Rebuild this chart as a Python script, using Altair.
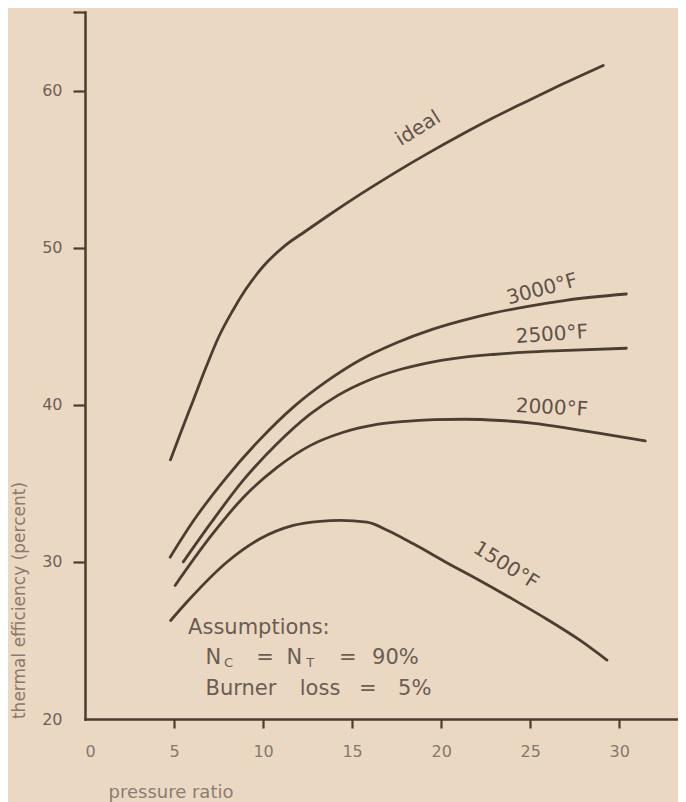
import altair as alt
import pandas as pd

# ---- data (pressure ratio, thermal efficiency %) ----
ideal_x = [4.8, 5.4, 6.05, 6.8, 7.5, 8.3, 9.0, 10.0, 11.2, 12.4, 13.6, 15.45, 17.3, 19.2, 21.1, 22.9, 24.8, 26.7, 29.1]
ideal_y = [36.5, 38.3, 40.2, 42.4, 44.3, 46.0, 47.3, 48.8, 50.1, 51.06, 52.0, 53.39, 54.7, 55.97, 57.17, 58.25, 59.31, 60.35, 61.6]

t3000_x = [4.78, 6.08, 7.96, 9.83, 11.7, 13.58, 15.45, 17.5, 19.5, 22.0, 24.8, 27.0, 30.4]
t3000_y = [30.3, 32.6, 35.4, 37.8, 39.85, 41.5, 42.85, 43.95, 44.8, 45.6, 46.25, 46.65, 47.05]

t2500_x = [5.52, 7.02, 8.89, 10.77, 12.64, 14.2, 15.9, 17.4, 19.2, 21.1, 22.9, 24.8, 26.7, 30.4]
t2500_y = [30.0, 32.4, 35.2, 37.5, 39.4, 40.6, 41.55, 42.15, 42.65, 43.0, 43.2, 43.35, 43.45, 43.6]

t2000_x = [5.06, 7.02, 8.89, 10.77, 12.64, 14.51, 16.39, 18.0, 19.6, 21.3, 23.3, 25.2, 27.06, 28.93, 31.46]
t2000_y = [28.5, 31.57, 34.1, 36.0, 37.4, 38.25, 38.75, 38.95, 39.05, 39.08, 39.0, 38.82, 38.52, 38.18, 37.7]

t1500_x = [4.81, 5.8, 7.96, 9.83, 11.7, 13.2, 14.33, 15.83, 17.0, 18.44, 20.32, 22.19, 24.06, 25.94, 27.81, 29.31]
t1500_y = [26.27, 27.54, 29.98, 31.47, 32.32, 32.58, 32.64, 32.53, 32.0, 31.15, 29.95, 28.8, 27.6, 26.35, 25.0, 23.75]

series_names = ["ideal", "3000", "2500", "2000", "1500"]
series_x = [ideal_x, t3000_x, t2500_x, t2000_x, t1500_x]
series_y = [ideal_y, t3000_y, t2500_y, t2000_y, t1500_y]

# curve labels
curve_labels = ["ideal", "3000°F", "2500°F", "2000°F", "1500°F"]
curve_label_x = [18.71, 25.67, 26.22, 26.22, 23.64]
curve_label_y = [57.59, 47.34, 44.47, 39.8, 29.77]
curve_label_angle = [328, 345, 356, 3, 32]

# assumptions note (pieces, so the subscripts can be small)
note_text = ["Assumptions:", "N", "C", "=", "N", "T", "=", "90%", "Burner", "loss", "=", "5%"]
note_x = [5.79, 6.77, 7.81, 9.61, 11.32, 12.42, 14.27, 16.12, 6.77, 12.06, 15.38, 17.58]
note_y = [25.44, 23.51, 23.34, 23.51, 23.51, 23.34, 23.51, 23.51, 21.5, 21.5, 21.5, 21.5]
note_size = [21, 21, 13, 21, 21, 13, 21, 21, 21, 21, 21, 21]

x_ticks = [0, 5, 10, 15, 20, 25, 30]
y_ticks = [20, 30, 40, 50, 60, 65]

# ---- build tables ----
rows = []
for name, xs, ys in zip(series_names, series_x, series_y):
    for xv, yv in zip(xs, ys):
        rows.append({"series": name, "x": xv, "y": yv})
df = pd.DataFrame(rows)

lab_df = pd.DataFrame({"text": curve_labels, "x": curve_label_x, "y": curve_label_y, "angle": curve_label_angle})
note_df = pd.DataFrame({"text": note_text, "x": note_x, "y": note_y, "size": note_size})

INK = "#4b3d30"
FONT = "DejaVu Sans"
BG = "#ebd8c3"

xscale = alt.Scale(domain=[0, 33.3], nice=False, zero=False)
yscale = alt.Scale(domain=[20, 65], nice=False, zero=False)

xaxis = alt.Axis(
    values=x_ticks, format="d", grid=False,
    domainColor=INK, domainWidth=2.5, domainCap="square",
    tickColor={"condition": {"test": "datum.value === 0", "value": "transparent"}, "value": INK},
    tickWidth=2.2, tickSize=9,
    labelFont=FONT, labelFontSize=16, labelColor="#85786c", labelPadding=15,
    title="pressure ratio", titleFont=FONT, titleFontSize=18, titleFontWeight="normal",
    titleColor="#8a7d70", titleX=23, titleY=78, titleAlign="left", titleBaseline="alphabetic",
)
yaxis = alt.Axis(
    values=y_ticks, grid=False,
    labelExpr="datum.value == 65 ? '' : datum.label",
    domainColor=INK, domainWidth=2.5, domainCap="square",
    tickColor={"condition": {"test": "datum.value === 20", "value": "transparent"}, "value": INK},
    tickWidth=2.2, tickSize=12,
    labelFont=FONT, labelFontSize=16, labelColor="#6f6254", labelPadding=11,
    title="thermal efficiency (percent)", titleFont=FONT, titleFontSize=17, titleFontWeight="normal",
    titleColor="#8a7a6c", titleX=-66, titleY=588, titleAngle=270, titleAlign="center",
    titleBaseline="middle",
)

X = alt.X("x:Q", scale=xscale, axis=xaxis)
Y = alt.Y("y:Q", scale=yscale, axis=yaxis)

lines = alt.Chart(df).mark_line(
    interpolate="monotone", color=INK, strokeWidth=2.8, strokeCap="round"
).encode(x=X, y=Y, detail="series:N")

labels = alt.Chart(lab_df).mark_text(
    font=FONT, fontSize=20, color="#5e5248", align="center", baseline="middle"
).encode(x=X, y=Y, text="text:N", angle=alt.Angle("angle:Q", scale=None))

note = alt.Chart(note_df).mark_text(
    font=FONT, color="#6a5d52", align="left", baseline="alphabetic"
).encode(x=X, y=Y, text="text:N", size=alt.Size("size:Q", scale=None))

chart = alt.layer(lines, labels, note).properties(
    width=593, height=707,
    padding={"left": 77, "top": 4, "right": 0, "bottom": 83},
    autosize=alt.AutoSizeParams(type="none"),
    background=BG,
).configure_view(stroke=None)

chart.save("out.html", embed_options={"renderer": "svg", "actions": False})
